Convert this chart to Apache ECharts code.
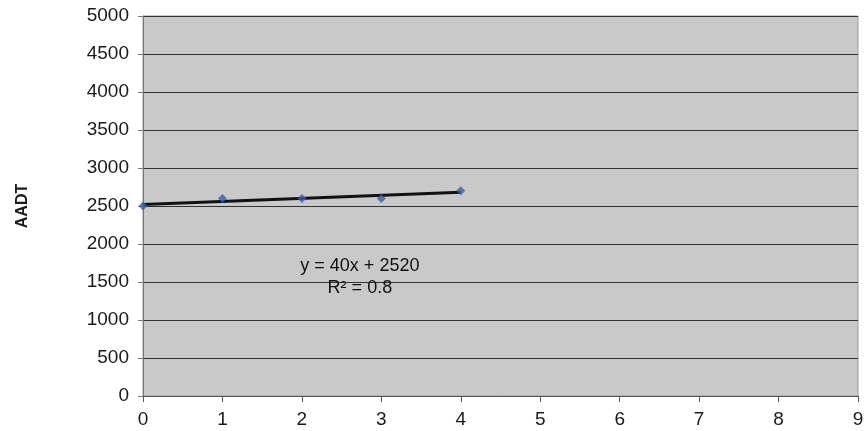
<!DOCTYPE html>
<html>
<head>
<meta charset="utf-8">
<script src="https://cdn.jsdelivr.net/npm/echarts@6/dist/echarts.min.js"></script>
<style>
  html, body { margin: 0; padding: 0; background: #fff; }
  #chart { width: 867px; height: 431px; }
</style>
</head>
<body>
<div id="chart"></div>
<script>
// Yearly AADT observations (year index vs. traffic count)
const years = [0, 1, 2, 3, 4];
const aadt = [2500, 2600, 2600, 2600, 2700];
// Linear trendline fitted to the observations
const slope = 40;
const intercept = 2520;
const rSquared = 0.8;
const xTicks = [0, 1, 2, 3, 4, 5, 6, 7, 8, 9];
const yTicks = [0, 500, 1000, 1500, 2000, 2500, 3000, 3500, 4000, 4500, 5000];

const points = years.map((x, i) => [x, aadt[i]]);
const trend = [years[0], years[years.length - 1]].map(x => [x, slope * x + intercept]);

const chart = echarts.init(document.getElementById('chart'));
const font = '"Liberation Sans", Arial, sans-serif';

chart.setOption({
  animation: false,
  backgroundColor: '#ffffff',
  grid: {
    left: 143, right: 9, top: 16, bottom: 35,
    show: true, backgroundColor: '#c9c9c9', borderColor: '#9a9a9a', borderWidth: 1
  },
  xAxis: {
    type: 'value', min: xTicks[0], max: xTicks[xTicks.length - 1], interval: 1,
    axisLine: { show: true, lineStyle: { color: '#555', width: 1 } },
    axisTick: { show: true, length: 6, lineStyle: { color: '#555' } },
    axisLabel: { color: '#1a1a1a', fontFamily: font, fontSize: 19, margin: 14, formatter: v => String(v) },
    splitLine: { show: false }
  },
  yAxis: {
    type: 'value', min: yTicks[0], max: yTicks[yTicks.length - 1], interval: 500,
    name: 'AADT', nameLocation: 'middle', nameGap: 112, nameRotate: 90,
    nameTextStyle: { color: '#1a1a1a', fontFamily: font, fontSize: 16, fontWeight: 'bold' },
    axisLine: { show: true, lineStyle: { color: '#777', width: 1 } },
    axisTick: { show: true, length: 5, lineStyle: { color: '#777' } },
    axisLabel: { color: '#1a1a1a', fontFamily: font, fontSize: 19, margin: 14, formatter: v => String(v) },
    splitLine: { show: true, lineStyle: { color: '#333', width: 1.2 } }
  },
  series: [
    {
      type: 'line', data: trend, symbol: 'none', silent: true, z: 3,
      lineStyle: { color: '#111', width: 3 }
    },
    {
      type: 'scatter', data: points, symbol: 'diamond', symbolSize: 9, z: 4,
      itemStyle: { color: '#3a5fa8' }
    }
  ]
});

// Trendline equation and R² annotation, anchored in data coordinates
const eqPos = chart.convertToPixel({ gridIndex: 0 }, [2.73, 1710]);
const r2Pos = chart.convertToPixel({ gridIndex: 0 }, [2.73, 1425]);
chart.setOption({
  graphic: [
    {
      type: 'text', x: eqPos[0], y: eqPos[1],
      style: { text: 'y = ' + slope + 'x + ' + intercept, fill: '#111', font: '18px ' + font, align: 'center', verticalAlign: 'middle' }
    },
    {
      type: 'text', x: r2Pos[0], y: r2Pos[1],
      style: { text: 'R² = ' + rSquared, fill: '#111', font: '18px ' + font, align: 'center', verticalAlign: 'middle' }
    }
  ]
});
</script>
</body>
</html>
